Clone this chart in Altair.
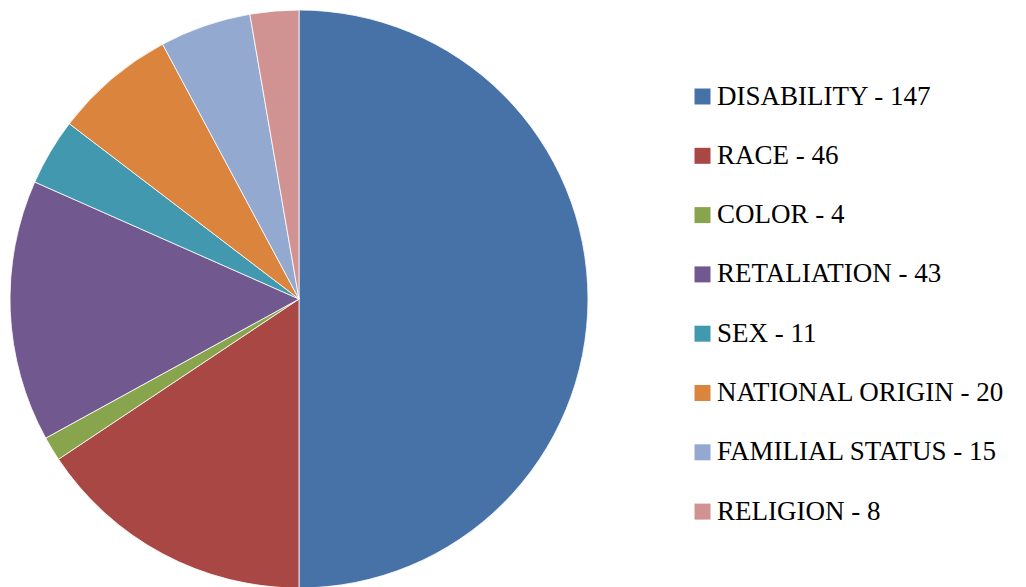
import altair as alt
import pandas as pd

categories = ["Disability", "Race", "Color", "Retaliation", "Sex",
              "National Origin", "Familial Status", "Religion"]
counts = [147, 46, 4, 43, 11, 20, 15, 8]
colors = ["#4672A8", "#A84744", "#88A44C", "#71588F", "#4198AF",
          "#DB843D", "#93A9CF", "#D19392"]

labels = [f"{c} - {v}" for c, v in zip(categories, counts)]
df = pd.DataFrame({"label": labels, "count": counts, "idx": list(range(len(labels)))})

chart = alt.Chart(df).mark_arc(stroke="#ffffff", strokeWidth=0.8).encode(
    theta=alt.Theta("count:Q", stack=True),
    order=alt.Order("idx:Q"),
    color=alt.Color(
        "label:N",
        scale=alt.Scale(domain=labels, range=colors),
        legend=alt.Legend(
            title=None,
            orient="none",
            legendX=680,
            legendY=73,
            symbolType="square",
            symbolSize=256,
            symbolStrokeWidth=0,
            labelFont="Liberation Serif",
            labelFontSize=27,
            labelColor="#000000",
            labelLimit=500,
            labelOffset=1,
            rowPadding=31.3,
            labelExpr="upper(datum.label)",
        ),
    ),
).properties(
    width=580,
    height=578,
    padding=0,
).configure_view(stroke=None)

chart.save("out.html", embed_options={"renderer": "svg", "actions": False})
